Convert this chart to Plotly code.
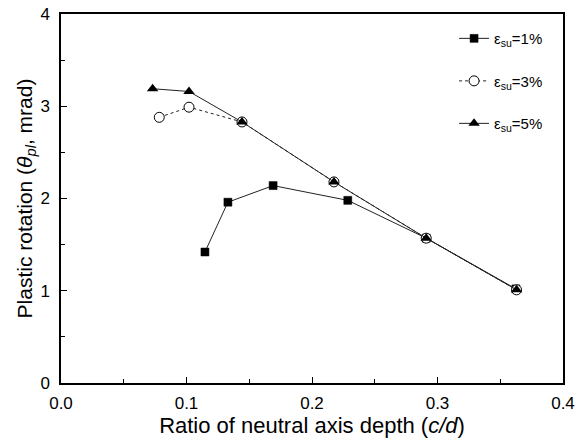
import plotly.graph_objects as go

# Data
x_1 = [0.1147, 0.133, 0.169, 0.2285, 0.291, 0.3625]
y_1 = [1.42, 1.96, 2.14, 1.98, 1.57, 1.02]

x_3 = [0.0783, 0.102, 0.1442, 0.2175, 0.291, 0.363]
y_3 = [2.88, 2.99, 2.83, 2.18, 1.57, 1.01]

x_5 = [0.0730, 0.102, 0.1442, 0.2175, 0.291, 0.363]
y_5 = [3.19, 3.16, 2.83, 2.18, 1.57, 1.01]

names = ["ε<sub>su</sub>=1%", "ε<sub>su</sub>=3%", "ε<sub>su</sub>=5%"]

FONT = "Liberation Sans, Arial, sans-serif"

fig = go.Figure()
fig.add_trace(go.Scatter(
    x=x_1, y=y_1, name=names[0], legendgroup="a", mode="lines+markers",
    line=dict(color="#222", width=1),
    marker=dict(symbol="square", size=8, color="black", line=dict(color="black", width=0.5)),
))
fig.add_trace(go.Scatter(
    x=x_3, y=y_3, name=names[1], legendgroup="b", mode="lines+markers",
    line=dict(color="#222", width=1, dash="dot"),
    marker=dict(symbol="circle", size=10, color="white", line=dict(color="black", width=1)),
))
fig.add_trace(go.Scatter(
    x=x_5, y=y_5, name=names[2], legendgroup="c", mode="lines+markers",
    line=dict(color="#222", width=1),
    marker=dict(symbol="triangle-up", size=10, color="black"),
))

axis_common = dict(
    showline=True, linecolor="black", linewidth=1.5, mirror=True,
    ticks="inside", ticklen=6, tickwidth=1, tickcolor="black",
    showgrid=False, zeroline=False, automargin=False,
    tickfont=dict(family=FONT, size=17, color="black"),
)

fig.update_xaxes(
    range=[0, 0.4], tickvals=[0, 0.1, 0.2, 0.3, 0.4], ticktext=["0.0", "0.1", "0.2", "0.3", "0.4"],
    minor=dict(tickvals=[0.05, 0.15, 0.25, 0.35], ticks="inside", ticklen=4, tickcolor="black"),
    ticklabelstandoff=4,
    title=dict(text="Ratio of neutral axis depth (<i>c/d</i>)",
               font=dict(family=FONT, size=22, color="black"), standoff=0),
    **axis_common,
)
fig.update_yaxes(
    range=[0, 4], tickvals=[0, 1, 2, 3, 4],
    minor=dict(tickvals=[0.5, 1.5, 2.5, 3.5], ticks="inside", ticklen=4, tickcolor="black"),
    ticklabelstandoff=6,
    title=dict(text="Plastic rotation (<i>θ<sub>pl</sub></i>, mrad)",
               font=dict(family=FONT, size=21, color="black"), standoff=2),
    **axis_common,
)

fig.update_layout(
    width=583, height=441,
    margin=dict(l=61, r=20, t=14, b=58),
    plot_bgcolor="white", paper_bgcolor="white",
    legend=dict(x=0.783, y=0.978, xanchor="left", yanchor="top",
                bgcolor="rgba(0,0,0,0)", tracegroupgap=20,
                font=dict(family=FONT, size=15, color="black")),
)

fig.write_html("out.html")
